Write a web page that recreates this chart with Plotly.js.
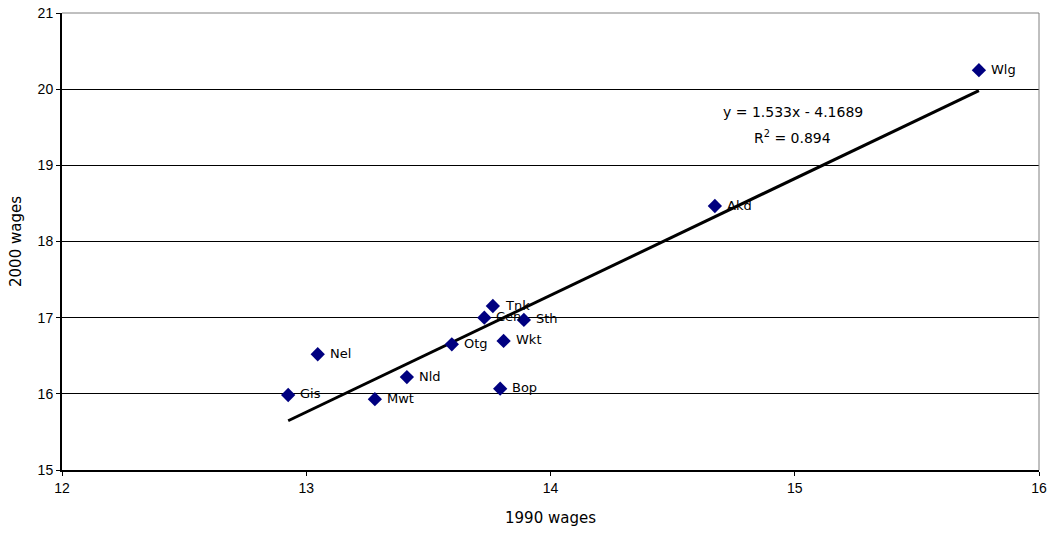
<!DOCTYPE html>
<html>
<head>
<meta charset="utf-8">
<script src="https://cdn.plot.ly/plotly-3.0.1.min.js"></script>
<style>html,body{margin:0;padding:0;background:#fff;}#chart{width:1049px;height:536px;}</style>
</head>
<body>
<div id="chart"></div>
<script>
const regions = ["Wlg","Akd","Tnk","Cen","Sth","Wkt","Otg","Nel","Nld","Bop","Gis","Mwt"];
const wages1990 = [15.754,14.673,13.764,13.729,13.891,13.808,13.596,13.047,13.412,13.794,12.926,13.281];
const wages2000 = [20.25,18.466,17.153,17.0,16.97,16.694,16.65,16.52,16.22,16.068,15.985,15.93];
const trendSlope = 1.533;
const trendIntercept = -4.1689;
const rSquared = 0.894;

const xMin = Math.min(...wages1990), xMax = Math.max(...wages1990);
const trendX = [xMin, xMax];
const trendY = trendX.map(v => trendSlope * v + trendIntercept);

const tickFont = {family: "Liberation Sans, Arial, sans-serif", size: 14, color: "#000"};
const titleFont = {family: "DejaVu Sans, sans-serif", size: 15, color: "#000"};
const labelFont = {family: "DejaVu Sans, sans-serif", size: 13, color: "#000"};
const eqFont = {family: "DejaVu Sans, sans-serif", size: 14, color: "#000"};

const traces = [
  {
    x: trendX, y: trendY, mode: "lines", type: "scatter",
    line: {color: "#000", width: 3}, hoverinfo: "skip", showlegend: false
  },
  {
    x: wages1990, y: wages2000, mode: "markers", type: "scatter",
    marker: {symbol: "diamond", color: "#000080", size: 11},
    showlegend: false
  }
];

const labelAnnotations = regions.map((r, i) => ({
  x: wages1990[i], y: wages2000[i], xref: "x", yref: "y",
  text: r, showarrow: false, xanchor: "left", yanchor: "middle",
  xshift: 10, yshift: 1, font: labelFont
}));

const layout = {
  width: 1049, height: 536,
  margin: {l: 62, r: 10, t: 13, b: 66},
  paper_bgcolor: "#fff", plot_bgcolor: "#fff",
  font: tickFont,
  xaxis: {
    range: [12, 16], dtick: 1, tick0: 12,
    showgrid: false, zeroline: false,
    showline: true, linecolor: "#000", linewidth: 2,
    ticks: "outside", ticklen: 4, tickcolor: "#000",
    title: {text: "1990 wages", font: titleFont, standoff: 18},
    tickfont: tickFont
  },
  yaxis: {
    range: [15, 21], dtick: 1, tick0: 15,
    showgrid: true, gridcolor: "#000", gridwidth: 1,
    zeroline: false,
    showline: true, linecolor: "#000", linewidth: 2,
    ticks: "outside", ticklen: 4, tickcolor: "#000",
    title: {text: "2000 wages", font: titleFont, standoff: 12},
    tickfont: tickFont
  },
  shapes: [
    {type: "line", xref: "paper", yref: "paper", x0: 1, x1: 1, y0: 0, y1: 1, line: {color: "#808080", width: 1}},
    {type: "line", xref: "paper", yref: "paper", x0: 0, x1: 1, y0: 1, y1: 1, line: {color: "#808080", width: 1}}
  ],
  annotations: labelAnnotations.concat([
    {
      xref: "paper", yref: "paper", x: 0.748, y: 0.783, xanchor: "center", yanchor: "middle",
      text: "y = " + trendSlope + "x - " + Math.abs(trendIntercept),
      showarrow: false, font: eqFont
    },
    {
      xref: "paper", yref: "paper", x: 0.748, y: 0.729, xanchor: "center", yanchor: "middle",
      text: "R<sup>2</sup> = " + rSquared,
      showarrow: false, font: eqFont
    }
  ])
};

Plotly.newPlot("chart", traces, layout, {displayModeBar: false, staticPlot: true});
</script>
</body>
</html>
